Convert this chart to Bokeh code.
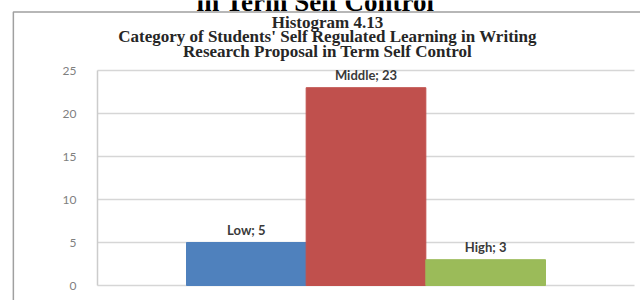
from bokeh.plotting import figure
from bokeh.models import (ColumnDataSource, Range1d, Label, LabelSet, FixedTicker)
from bokeh.core.properties import value
from bokeh.embed import file_html
from bokeh.resources import INLINE

categories = ["Low", "Middle", "High"]
counts = [5, 23, 3]
colors = ["#4F81BD", "#C0504D", "#9BBB59"]
y_ticks = [0, 5, 10, 15, 20, 25]
heading = "in Term Self Control"
title_lines = [
    "Histogram 4.13",
    "Category of Students' Self Regulated Learning in Writing",
    "Research Proposal in Term Self Control",
]

# ---- layout (canvas pixels) ----
W, H = 640, 300
AX_L, AX_R = 97, 634        # value axis x, right end of gridlines
Y_TOP, Y_BOT = 70, 285      # pixel rows of y=25 and y=0
BAR_L, BAR_R = 186, 545     # left edge of first bar, right edge of last bar

bar_px = (BAR_R - BAR_L) / len(categories)
c0 = BAR_L + bar_px / 2
px_y = (Y_BOT - Y_TOP) / (y_ticks[-1] - y_ticks[0])


def dx(sx):
    return (sx - c0) / bar_px


def lab(sx, sy, text, **kw):
    """Label placed by canvas pixel (sx, sy from the top-left)."""
    return Label(x=sx, y=H - sy, x_units="screen", y_units="screen", text=text, **kw)


src = ColumnDataSource(dict(
    x=list(range(len(categories))), n=counts, color=colors,
    label=[f"{c}; {v}" for c, v in zip(categories, counts)],
))

p = figure(width=W, height=H, output_backend="svg", toolbar_location=None, title=None,
           x_range=Range1d(dx(0), dx(W)),
           y_range=Range1d(-(H - Y_BOT) / px_y, Y_BOT / px_y))
p.min_border = 0
p.outline_line_color = None
p.background_fill_color = "white"
p.border_fill_color = "white"

p.vbar(x="x", top="n", width=1.0, color="color", source=src)

p.add_layout(LabelSet(x="x", y="n", text="label", source=src, y_offset=13,
                      text_align="center", text_baseline="middle",
                      text_font=value("Lato"), text_font_style="bold",
                      text_font_size="13px", text_color="#3A3A3A"))

p.xaxis.visible = False
p.xgrid.grid_line_color = None
p.ygrid.grid_line_color = "#D6D6D6"
p.ygrid.grid_line_width = 1.5
p.ygrid.cross_bounds = (dx(AX_L), dx(AX_R))
p.yaxis.fixed_location = dx(AX_L)
p.yaxis.bounds = (y_ticks[0], y_ticks[-1])
p.yaxis.ticker = FixedTicker(ticks=y_ticks)
p.yaxis.axis_line_color = "#CCCCCC"
p.yaxis.axis_line_width = 1.5
p.yaxis.major_tick_line_color = None
p.yaxis.minor_tick_line_color = None
p.yaxis.major_label_standoff = 15
p.yaxis.major_label_text_font = "Lato"
p.yaxis.major_label_text_font_size = "12px"
p.yaxis.major_label_text_color = "#7F7F7F"

# outer chart box (only its left and top edges fall inside the picture)
P = 1000
p.add_layout(lab(13 + P, 12 + P, " ", text_align="center", text_baseline="middle",
                 text_font_size="1px", padding=P, background_fill_color=None,
                 border_line_color="#A0A0A0", border_line_width=1.5))

# heading cropped at the top edge, above the chart box
p.add_layout(lab(315, 1, heading, text_align="center", text_baseline="alphabetic",
                 text_font="Liberation Serif", text_font_style="bold",
                 text_font_size="27px", text_color="black"))

title_y = [22, 36, 51]
for t, sy in zip(title_lines, title_y):
    p.add_layout(lab(327, sy, t, text_align="center", text_baseline="middle",
                     text_font="Liberation Serif", text_font_style="bold",
                     text_font_size="17px", text_color="#262626"))

open("out.html", "w").write(file_html(p, INLINE))
